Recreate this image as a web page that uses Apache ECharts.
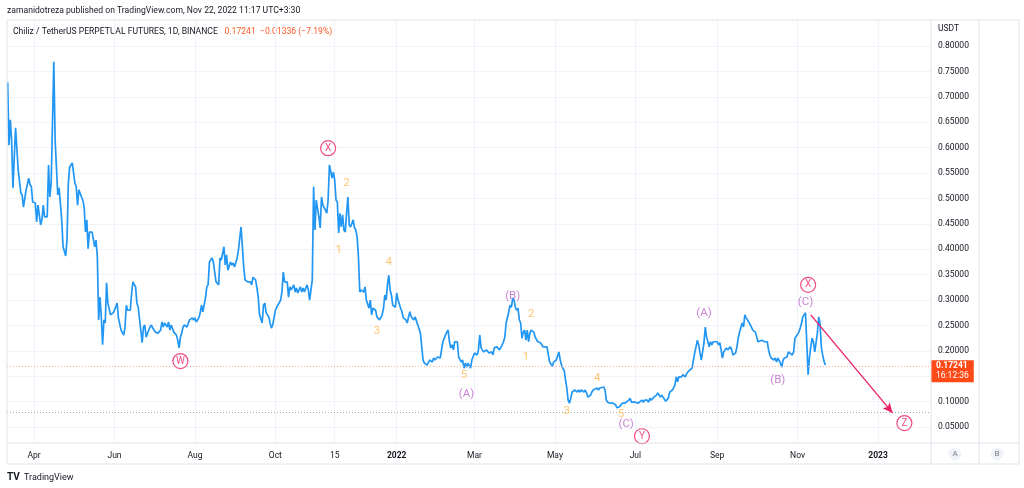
<!DOCTYPE html>
<html>
<head>
<meta charset="utf-8">
<script src="https://cdn.jsdelivr.net/npm/echarts@6/dist/echarts.min.js"></script>
<style>
  html, body { margin: 0; padding: 0; background: #fff; }
  #main { width: 1024px; height: 488px; }
</style>
</head>
<body>
<div id="main"></div>
<script>
// CHZ/USDT perp, 1D, daily closes
var dates = [
 '2021-03-12','2021-03-13','2021-03-14','2021-03-15','2021-03-16','2021-03-18','2021-03-20','2021-03-22','2021-03-23','2021-03-24',
 '2021-03-25','2021-03-26','2021-03-28','2021-03-29','2021-03-30','2021-03-31','2021-04-02','2021-04-03','2021-04-04','2021-04-06',
 '2021-04-07','2021-04-08','2021-04-09','2021-04-11','2021-04-12','2021-04-13','2021-04-14','2021-04-16','2021-04-17','2021-04-19',
 '2021-04-20','2021-04-22','2021-04-23','2021-04-25','2021-04-26','2021-04-27','2021-04-28','2021-04-30','2021-05-01','2021-05-02',
 '2021-05-03','2021-05-04','2021-05-05','2021-05-07','2021-05-08','2021-05-09','2021-05-10','2021-05-11','2021-05-12','2021-05-13',
 '2021-05-15','2021-05-16','2021-05-17','2021-05-18','2021-05-19','2021-05-20','2021-05-21','2021-05-22','2021-05-23','2021-05-24',
 '2021-05-25','2021-05-26','2021-05-27','2021-05-29','2021-05-30','2021-05-31','2021-06-01','2021-06-03','2021-06-04','2021-06-05',
 '2021-06-06','2021-06-08','2021-06-09','2021-06-10','2021-06-11','2021-06-13','2021-06-14','2021-06-15','2021-06-17','2021-06-18',
 '2021-06-19','2021-06-22','2021-06-23','2021-06-24','2021-06-25','2021-06-27','2021-06-28','2021-06-29','2021-06-30','2021-07-02',
 '2021-07-04','2021-07-06','2021-07-07','2021-07-08','2021-07-09','2021-07-11','2021-07-12','2021-07-13','2021-07-14','2021-07-16',
 '2021-07-17','2021-07-18','2021-07-19','2021-07-20','2021-07-21','2021-07-22','2021-07-23','2021-07-24','2021-07-26','2021-07-27',
 '2021-07-28','2021-07-30','2021-07-31','2021-08-01','2021-08-02','2021-08-04','2021-08-05','2021-08-06','2021-08-07','2021-08-09',
 '2021-08-10','2021-08-11','2021-08-12','2021-08-14','2021-08-15','2021-08-16','2021-08-17','2021-08-19','2021-08-20','2021-08-21',
 '2021-08-23','2021-08-24','2021-08-25','2021-08-26','2021-08-28','2021-08-29','2021-08-30','2021-08-31','2021-09-02','2021-09-03',
 '2021-09-04','2021-09-05','2021-09-07','2021-09-08','2021-09-09','2021-09-10','2021-09-12','2021-09-13','2021-09-14','2021-09-16',
 '2021-09-17','2021-09-18','2021-09-19','2021-09-21','2021-09-22','2021-09-23','2021-09-24','2021-09-26','2021-09-27','2021-09-28',
 '2021-09-29','2021-10-01','2021-10-02','2021-10-03','2021-10-05','2021-10-06','2021-10-07','2021-10-08','2021-10-10','2021-10-11',
 '2021-10-12','2021-10-13','2021-10-15','2021-10-16','2021-10-17','2021-10-18','2021-10-20','2021-10-21','2021-10-22','2021-10-23',
 '2021-10-25','2021-10-26','2021-10-27','2021-10-28','2021-10-29','2021-10-30','2021-10-31','2021-11-01','2021-11-03','2021-11-04',
 '2021-11-05','2021-11-06','2021-11-08','2021-11-09','2021-11-10','2021-11-11','2021-11-13','2021-11-14','2021-11-15','2021-11-16',
 '2021-11-17','2021-11-18','2021-11-19','2021-11-20','2021-11-21','2021-11-22','2021-11-23','2021-11-24','2021-11-25','2021-11-26',
 '2021-11-27','2021-11-29','2021-11-30','2021-12-01','2021-12-02','2021-12-03','2021-12-04','2021-12-05','2021-12-07','2021-12-08',
 '2021-12-09','2021-12-11','2021-12-12','2021-12-13','2021-12-14','2021-12-16','2021-12-17','2021-12-18','2021-12-19','2021-12-21',
 '2021-12-22','2021-12-23','2021-12-24','2021-12-25','2021-12-26','2021-12-27','2021-12-28','2021-12-29','2021-12-31','2022-01-01',
 '2022-01-02','2022-01-04','2022-01-05','2022-01-06','2022-01-08','2022-01-09','2022-01-10','2022-01-11','2022-01-12','2022-01-14',
 '2022-01-15','2022-01-16','2022-01-17','2022-01-19','2022-01-20','2022-01-21','2022-01-22','2022-01-24','2022-01-25','2022-01-26',
 '2022-01-28','2022-01-29','2022-01-30','2022-02-01','2022-02-02','2022-02-03','2022-02-05','2022-02-07','2022-02-08','2022-02-09',
 '2022-02-10','2022-02-11','2022-02-12','2022-02-13','2022-02-14','2022-02-16','2022-02-17','2022-02-18','2022-02-19','2022-02-20',
 '2022-02-21','2022-02-22','2022-02-23','2022-02-24','2022-02-26','2022-02-27','2022-02-28','2022-03-01','2022-03-02','2022-03-03',
 '2022-03-04','2022-03-05','2022-03-06','2022-03-07','2022-03-08','2022-03-09','2022-03-10','2022-03-12','2022-03-13','2022-03-14',
 '2022-03-15','2022-03-16','2022-03-18','2022-03-19','2022-03-20','2022-03-22','2022-03-23','2022-03-24','2022-03-25','2022-03-26',
 '2022-03-27','2022-03-28','2022-03-29','2022-03-30','2022-03-31','2022-04-01','2022-04-02','2022-04-03','2022-04-04','2022-04-05',
 '2022-04-06','2022-04-07','2022-04-08','2022-04-09','2022-04-10','2022-04-11','2022-04-12','2022-04-13','2022-04-15','2022-04-16',
 '2022-04-17','2022-04-18','2022-04-20','2022-04-21','2022-04-22','2022-04-23','2022-04-25','2022-04-26','2022-04-27','2022-04-29',
 '2022-04-30','2022-05-01','2022-05-02','2022-05-04','2022-05-05','2022-05-06','2022-05-07','2022-05-08','2022-05-09','2022-05-10',
 '2022-05-11','2022-05-12','2022-05-13','2022-05-14','2022-05-15','2022-05-16','2022-05-18','2022-05-19','2022-05-20','2022-05-21',
 '2022-05-23','2022-05-24','2022-05-25','2022-05-26','2022-05-28','2022-05-29','2022-05-30','2022-05-31','2022-06-02','2022-06-03',
 '2022-06-04','2022-06-05','2022-06-07','2022-06-08','2022-06-09','2022-06-10','2022-06-12','2022-06-13','2022-06-14','2022-06-16',
 '2022-06-17','2022-06-18','2022-06-19','2022-06-21','2022-06-22','2022-06-23','2022-06-24','2022-06-26','2022-06-27','2022-06-28',
 '2022-06-29','2022-07-01','2022-07-02','2022-07-03','2022-07-04','2022-07-06','2022-07-07','2022-07-08','2022-07-10','2022-07-11',
 '2022-07-12','2022-07-13','2022-07-15','2022-07-16','2022-07-17','2022-07-18','2022-07-20','2022-07-21','2022-07-22','2022-07-24',
 '2022-07-26','2022-07-27','2022-07-29','2022-07-30','2022-07-31','2022-08-01','2022-08-02','2022-08-03','2022-08-04','2022-08-05',
 '2022-08-06','2022-08-08','2022-08-09','2022-08-10','2022-08-11','2022-08-13','2022-08-14','2022-08-15','2022-08-16','2022-08-17',
 '2022-08-18','2022-08-19','2022-08-20','2022-08-22','2022-08-23','2022-08-24','2022-08-25','2022-08-26','2022-08-27','2022-08-28',
 '2022-08-29','2022-08-30','2022-09-01','2022-09-02','2022-09-03','2022-09-04','2022-09-05','2022-09-06','2022-09-07','2022-09-08',
 '2022-09-09','2022-09-11','2022-09-12','2022-09-13','2022-09-15','2022-09-16','2022-09-17','2022-09-18','2022-09-20','2022-09-21',
 '2022-09-22','2022-09-23','2022-09-25','2022-09-26','2022-09-27','2022-09-28','2022-09-30','2022-10-01','2022-10-02','2022-10-03',
 '2022-10-05','2022-10-06','2022-10-07','2022-10-09','2022-10-10','2022-10-11','2022-10-12','2022-10-14','2022-10-15','2022-10-16',
 '2022-10-17','2022-10-19','2022-10-20','2022-10-21','2022-10-22','2022-10-24','2022-10-25','2022-10-26','2022-10-28','2022-10-29',
 '2022-10-30','2022-10-31','2022-11-02','2022-11-03','2022-11-04','2022-11-05','2022-11-07','2022-11-08','2022-11-09','2022-11-10',
 '2022-11-11','2022-11-12','2022-11-13','2022-11-14','2022-11-15','2022-11-16','2022-11-17','2022-11-18','2022-11-19','2022-11-20',
 '2022-11-21','2022-11-22'
];
var prices = [
 .729,.605,.655,.615,.521,.639,.556,.511,.507,.483,
 .483,.517,.540,.527,.523,.493,.491,.454,.487,.448,
 .458,.487,.464,.464,.566,.503,.530,.769,.615,.507,
 .521,.458,.405,.387,.418,.530,.562,.570,.550,.530,
 .523,.487,.517,.503,.497,.483,.434,.458,.401,.434,
 .434,.434,.405,.418,.385,.261,.306,.267,.212,.261,
 .255,.334,.294,.271,.271,.275,.280,.294,.265,.267,
 .241,.231,.247,.290,.280,.280,.314,.336,.326,.294,
 .286,.216,.247,.251,.227,.241,.247,.251,.245,.237,
 .235,.241,.257,.247,.255,.247,.257,.241,.251,.237,
 .237,.231,.221,.206,.227,.235,.247,.251,.247,.255,
 .261,.265,.261,.265,.257,.265,.275,.290,.277,.304,
 .326,.330,.375,.383,.375,.355,.336,.330,.383,.379,
 .405,.369,.389,.359,.375,.369,.373,.365,.383,.399,
 .422,.444,.365,.340,.343,.336,.336,.330,.345,.340,
 .324,.306,.271,.255,.290,.294,.275,.267,.255,.245,
 .251,.280,.286,.284,.300,.316,.355,.336,.336,.306,
 .326,.320,.330,.316,.324,.314,.326,.316,.324,.316,
 .330,.320,.300,.320,.340,.523,.438,.497,.464,.442,
 .503,.487,.477,.471,.497,.566,.540,.552,.536,.497,
 .493,.432,.471,.444,.468,.438,.434,.471,.503,.448,
 .444,.458,.442,.438,.424,.385,.316,.320,.316,.326,
 .300,.284,.300,.271,.284,.280,.267,.265,.261,.271,
 .284,.310,.300,.330,.349,.320,.310,.290,.286,.314,
 .300,.284,.277,.265,.261,.255,.267,.277,.267,.261,
 .267,.265,.251,.235,.208,.182,.176,.172,.170,.182,
 .178,.186,.182,.188,.186,.186,.218,.231,.237,.241,
 .218,.206,.212,.202,.218,.218,.188,.186,.178,.182,
 .166,.176,.168,.176,.166,.182,.182,.196,.198,.192,
 .202,.231,.206,.202,.198,.198,.202,.196,.198,.198,
 .192,.206,.208,.206,.202,.212,.218,.227,.255,.257,
 .277,.290,.286,.304,.300,.286,.280,.284,.261,.255,
 .225,.237,.241,.221,.241,.218,.235,.241,.237,.227,
 .225,.218,.216,.212,.208,.206,.208,.192,.178,.170,
 .178,.176,.182,.198,.182,.172,.166,.162,.143,.127,
 .103,.097,.107,.119,.117,.123,.119,.123,.119,.123,
 .119,.123,.117,.109,.113,.119,.123,.123,.127,.123,
 .127,.127,.129,.123,.103,.099,.097,.099,.097,.094,
 .088,.090,.090,.097,.094,.097,.099,.103,.107,.099,
 .097,.099,.099,.097,.099,.103,.099,.103,.103,.099,
 .107,.103,.109,.107,.113,.117,.109,.113,.109,.101,
 .107,.119,.123,.127,.133,.149,.139,.149,.147,.149,
 .153,.149,.156,.158,.162,.166,.182,.196,.208,.221,
 .212,.196,.182,.216,.247,.227,.218,.208,.218,.212,
 .218,.216,.218,.212,.216,.202,.186,.198,.202,.206,
 .202,.208,.202,.192,.196,.208,.225,.237,.255,.247,
 .271,.265,.257,.255,.247,.241,.237,.237,.218,.218,
 .221,.221,.218,.218,.202,.192,.186,.182,.186,.178,
 .186,.176,.168,.182,.186,.188,.198,.198,.192,.198,
 .225,.225,.237,.245,.255,.267,.275,.275,.153,.188,
 .208,.225,.218,.198,.216,.235,.267,.255,.208,.192,
 .180,.17241
];

var lastPrice = 0.17241;
var levelLine = 0.0803;

// x-axis ticks
var tickDates = ['2021-04-01','2021-06-01','2021-08-01','2021-10-01','2021-11-15','2022-01-01',
                 '2022-03-01','2022-05-01','2022-07-01','2022-09-01','2022-11-01','2023-01-01'];
var tickTexts = ['Apr','Jun','Aug','Oct','15','2022','Mar','May','Jul','Sep','Nov','2023'];
// y-axis ticks
var yTicks = [0.05,0.10,0.15,0.20,0.25,0.30,0.35,0.40,0.45,0.50,0.55,0.60,0.65,0.70,0.75,0.80];
var yLabels = [0.05,0.10,0.20,0.25,0.30,0.35,0.40,0.45,0.50,0.55,0.60,0.65,0.70,0.75,0.80];

// Elliott wave labels
var waveDates = ['2021-11-10','2021-11-24','2021-11-18','2021-12-26','2021-12-17','2021-07-21',
                 '2022-02-21','2022-02-23','2022-03-30','2022-04-13','2022-04-09','2022-06-02',
                 '2022-05-10','2022-06-20','2022-06-24','2022-07-06','2022-08-22','2022-10-17',
                 '2022-11-07','2022-11-09','2023-01-21'];
var waveValues = [0.599,0.530,0.399,0.375,0.239,0.180,
                  0.153,0.115,0.308,0.273,0.188,0.147,
                  0.082,0.076,0.056,0.032,0.275,0.143,
                  0.296,0.330,0.058];
var waveTexts = ['X','2','1','4','3','W',
                 '5','(A)','(B)','2','1','4',
                 '3','5','(C)','Y','(A)','(B)',
                 '(C)','X','Z'];
var waveKinds = ['c','n','n','n','n','c',
                 'n','p','p','n','n','n',
                 'n','n','p','c','p','p',
                 'p','c','c'];

// projected arrow
var arrowFrom = ['2022-11-11', 0.271];
var arrowTo = ['2023-01-12', 0.078];

function ts(s){ return new Date(s).getTime(); }

var lineData = [];
for (var i = 0; i < dates.length; i++) lineData.push([ts(dates[i]), prices[i]]);

var tickTimes = tickDates.map(ts);

var plainData = [], circData = [];
var kindColor = { n: '#ffb74d', p: '#ba68c8', c: '#e91e63' };
for (var k = 0; k < waveDates.length; k++) {
  var item = {
    value: [ts(waveDates[k]), waveValues[k]],
    label: { formatter: waveTexts[k], color: kindColor[waveKinds[k]] }
  };
  if (waveKinds[k] == 'c') circData.push(item); else plainData.push(item);
}

var FONT = 'Roboto, "Noto Sans", sans-serif';
var chart = echarts.init(document.getElementById('main'));

var option = {
  animation: false,
  backgroundColor: '#ffffff',
  textStyle: { fontFamily: FONT },
  grid: { left: 7, right: 93, top: 20, bottom: 45, containLabel: false },
  xAxis: {
    type: 'value',
    min: Date.UTC(2021, 2, 11, 12),
    max: Date.UTC(2023, 1, 10, 4),
    axisLine: { show: false },
    axisTick: { show: false, customValues: tickTimes },
    axisLabel: {
      customValues: tickTimes,
      color: '#131722', fontSize: 8.5, margin: 8, fontFamily: FONT,
      formatter: function (v) {
        var idx = tickTimes.indexOf(v);
        var t = idx >= 0 ? tickTexts[idx] : '';
        return /^\d{4}$/.test(t) ? '{b|' + t + '}' : t;
      },
      rich: { b: { fontWeight: 'bold', fontSize: 8.5, color: '#131722' } }
    },
    splitLine: { show: true, lineStyle: { color: '#f0f3fa', width: 1 } }
  },
  yAxis: {
    type: 'value',
    position: 'right',
    min: 0.0187,
    max: 0.8514,
    axisLine: { show: false },
    axisTick: { show: false, customValues: yTicks },
    axisLabel: {
      customValues: yLabels,
      color: '#131722', fontSize: 8.5, margin: 7, fontFamily: FONT,
      formatter: function (v) { return v.toFixed(5); }
    },
    splitLine: { show: true, lineStyle: { color: '#f0f3fa', width: 1 } }
  },
  series: [
    {
      name: 'CHZUSDT',
      type: 'line',
      data: lineData,
      showSymbol: false,
      lineStyle: { color: '#2196f3', width: 1.7 },
      z: 3,
      markLine: {
        silent: true,
        symbol: ['none', 'none'],
        animation: false,
        data: [
          {
            yAxis: lastPrice,
            lineStyle: { color: '#ffab91', type: [1, 2], width: 1 },
            label: {
              show: true, position: 'end', distance: 0, offset: [0, 5],
              formatter: '{a|0.17241}\n{b|16:12:36}',
              backgroundColor: '#ff4a17',
              padding: [1, 5, 1, 5],
              rich: {
                a: { color: '#fff', fontWeight: 'bold', fontSize: 8.5, lineHeight: 10, fontFamily: FONT },
                b: { color: '#fff', fontSize: 8.5, lineHeight: 10, fontFamily: FONT }
              }
            }
          },
          {
            yAxis: levelLine,
            lineStyle: { color: '#a3a6af', type: [1, 2], width: 1 },
            label: { show: false }
          },
          [
            { coord: [ts(arrowFrom[0]), arrowFrom[1]], symbol: 'none' },
            { coord: [ts(arrowTo[0]), arrowTo[1]], symbol: 'arrow', symbolSize: [7, 10] }
          ]
        ],
        lineStyle: { color: '#e91e63', width: 1.3, type: 'solid' },
        label: { show: false }
      }
    },
    {
      name: 'waves',
      type: 'scatter',
      data: plainData,
      symbolSize: 1,
      itemStyle: { color: 'rgba(0,0,0,0)' },
      label: { show: true, position: 'inside', fontSize: 11.5, fontFamily: FONT },
      silent: true,
      z: 5
    },
    {
      name: 'degree',
      type: 'scatter',
      data: circData,
      symbol: 'circle',
      symbolSize: 15,
      itemStyle: { color: '#ffffff', borderColor: '#e91e63', borderWidth: 1.2 },
      label: { show: true, position: 'inside', fontSize: 10, fontFamily: FONT },
      silent: true,
      z: 5
    }
  ],
  graphic: [
    { type: 'text', left: 7, top: 6,
      style: { text: 'zamanidotreza published on TradingView.com, Nov 22, 2022 11:17 UTC+3:30',
               fill: '#131722', font: '8.6px ' + FONT } },
    { type: 'rect', shape: { x: 7, y: 20, width: 1012, height: 444 },
      style: { fill: 'none', stroke: '#e0e3eb', lineWidth: 1 }, z: 10 },
    { type: 'line', shape: { x1: 931, y1: 20, x2: 931, y2: 464 }, style: { stroke: '#e0e3eb' }, z: 10 },
    { type: 'line', shape: { x1: 979, y1: 20, x2: 979, y2: 464 }, style: { stroke: '#e0e3eb' }, z: 10 },
    { type: 'line', shape: { x1: 7, y1: 443, x2: 1019, y2: 443 }, style: { stroke: '#e0e3eb' }, z: 10 },
    { type: 'text', left: 13, top: 26,
      style: {
        text: '{a|Chiliz / TetherUS PERPETUAL FUTURES, 1D, BINANCE}  {o|0.17241  \u22120.01336 (\u22127.19%)}',
        rich: {
          a: { fill: '#131722', fontSize: 8.6, fontFamily: FONT },
          o: { fill: '#ff5722', fontSize: 8.6, fontFamily: FONT }
        }
      } },
    { type: 'text', left: 938, top: 24, style: { text: 'USDT', fill: '#131722', font: '8.5px ' + FONT } },
    { type: 'circle', shape: { cx: 955, cy: 454, r: 6.5 }, style: { fill: '#f0f3fa' }, z: 10 },
    { type: 'text', x: 955, y: 454, style: { text: 'A', fill: '#787b86', font: '8px ' + FONT, align: 'center', verticalAlign: 'middle' }, z: 11 },
    { type: 'circle', shape: { cx: 997, cy: 454, r: 6.5 }, style: { fill: '#f0f3fa' }, z: 10 },
    { type: 'text', x: 997, y: 454, style: { text: 'B', fill: '#787b86', font: '8px ' + FONT, align: 'center', verticalAlign: 'middle' }, z: 11 },
    { type: 'text', left: 7, top: 472, style: { text: 'TV', fill: '#131722', font: 'bold 10px ' + FONT } },
    { type: 'text', left: 24, top: 473, style: { text: 'TradingView', fill: '#131722', font: '9px ' + FONT } }
  ]
};

chart.setOption(option);
</script>
</body>
</html>
